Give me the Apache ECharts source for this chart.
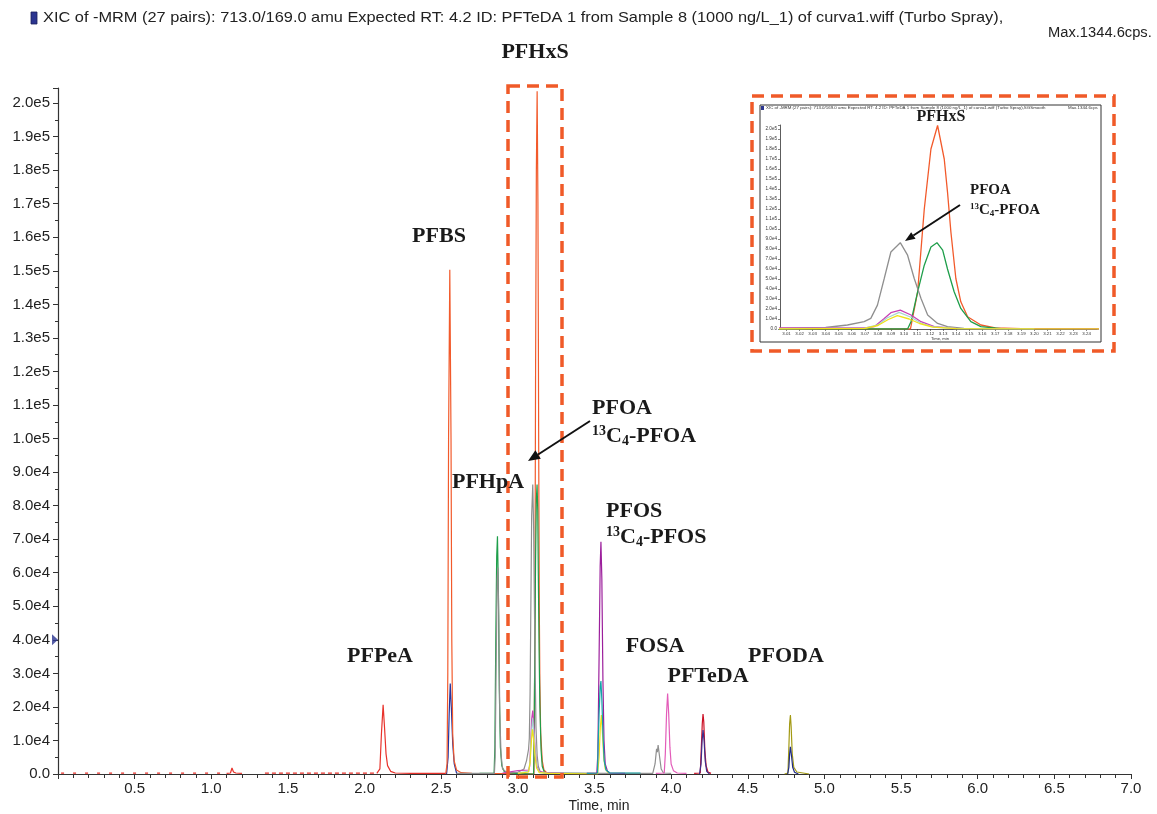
<!DOCTYPE html>
<html>
<head>
<meta charset="utf-8">
<title>XIC of -MRM</title>
<script src="https://cdn.jsdelivr.net/npm/echarts@6.0.0/dist/echarts.min.js"></script>
<style>
    html, body { margin: 0; padding: 0; background: #fff; }
    #chart { width: 1157px; height: 814px; }
</style>
</head>
<body>
<div id="chart"></div>
<script>
// ---- data: [time (min), intensity (cps)] ----
var pfpeaNoiseEarly = [[0.02, 250], [1.10, 250]];
var pfpeaNoiseLate = [[1.35, 250], [2.08, 250]];
var pfpeaBump = [[1.10, 200], [1.125, 300], [1.135, 1800], [1.145, 600], [1.16, 300], [1.20, 200]];
var pfpeaPeak = [[2.08, 200], [2.10, 1500], [2.11, 12000], [2.121, 20600], [2.13, 14000], [2.14, 6000],
    [2.15, 2500], [2.17, 800], [2.20, 300], [2.30, 200], [2.53, 200]];

// PFBS and PFHxS share the orange trace
var orangeTrace = [[2.53, 200], [2.538, 3000], [2.543, 30000], [2.548, 100000], [2.556, 150300], [2.564, 100000],
    [2.569, 40000], [2.575, 12000], [2.584, 4000], [2.60, 1200], [2.63, 400], [2.70, 200], [2.90, 150], [3.00, 100],
    [3.105, 0], [3.1105, 37000], [3.1156, 120000], [3.1207, 180000], [3.1258, 203500], [3.1309, 170000],
    [3.1334, 137000], [3.136, 97000], [3.1398, 50500], [3.1436, 27200], [3.1488, 12300], [3.159, 4000],
    [3.17, 1200], [3.19, 300], [3.30, 150], [3.50, 100]];
var pfbsBlue = [[2.535, 0], [2.545, 5000], [2.552, 18000], [2.559, 27000], [2.566, 20000], [2.575, 9000],
    [2.585, 3000], [2.60, 300], [2.61, 0]];

// PFHpA + 13C4-PFOA (green)
var greenTrace = [[2.75, 200], [2.845, 300], [2.85, 8000], [2.856, 40000], [2.862, 65000], [2.867, 70900],
    [2.873, 55000], [2.879, 25000], [2.886, 8000], [2.895, 2500], [2.91, 800], [2.95, 300], [3.00, 100],
    [3.1028, 0], [3.1054, 7300], [3.1105, 37200], [3.1156, 63800], [3.1207, 82000], [3.1253, 86300],
    [3.1297, 78800], [3.1334, 60000], [3.1385, 37200], [3.1436, 20600], [3.1513, 7300], [3.159, 2300],
    [3.1744, 300], [3.20, 200], [3.30, 200], [3.50, 150]];

// PFHpA + PFOA + FOSA (gray)
var grayTrace = [[2.60, 200], [2.847, 200], [2.852, 5000], [2.859, 35000], [2.865, 58000], [2.870, 61500],
    [2.876, 45000], [2.882, 18000], [2.89, 6000], [2.90, 1500], [2.93, 400], [3.00, 500], [3.04, 1500],
    [3.0567, 4000], [3.0695, 7300], [3.0746, 10600], [3.0797, 23900], [3.0849, 50500], [3.09, 77000],
    [3.0972, 86300], [3.1028, 73800], [3.1079, 50500], [3.1131, 30500], [3.1182, 14000], [3.1258, 5600],
    [3.1334, 2300], [3.146, 700], [3.17, 300], [3.30, 300], [3.60, 200], [3.88, 200], [3.895, 3000],
    [3.905, 7500], [3.91, 6500], [3.915, 8600], [3.925, 5000], [3.935, 1500], [3.95, 300], [4.00, 200]];

var magentaTrace = [[2.90, 300], [3.00, 1000], [3.07, 1200], [3.0772, 2300], [3.0849, 10600], [3.09, 16300],
    [3.0972, 18900], [3.1054, 14000], [3.1131, 7300], [3.1233, 2300], [3.14, 700], [3.20, 300], [3.30, 200]];
var paleTealTrace = [[3.00, 300], [3.07, 800], [3.08, 4000], [3.087, 11000], [3.0963, 16600], [3.105, 12000],
    [3.113, 6000], [3.123, 2000], [3.14, 500], [3.20, 200]];
var yellowTrace = [[3.00, 200], [3.07, 600], [3.08, 3500], [3.088, 9500], [3.095, 13300], [3.104, 10000],
    [3.112, 5500], [3.122, 1800], [3.14, 400], [3.20, 200], [3.52, 0], [3.53, 5000], [3.538, 14000],
    [3.545, 17600], [3.552, 12000], [3.56, 5000], [3.57, 1500], [3.59, 300]];

// PFOS / 13C4-PFOS
var pfosPurple = [[3.45, 200], [3.515, 300], [3.522, 6000], [3.53, 35000], [3.537, 62000], [3.542, 69200],
    [3.548, 58000], [3.555, 28000], [3.562, 10000], [3.57, 3000], [3.585, 800], [3.60, 300], [3.70, 200]];
var pfosTeal = [[3.45, 200], [3.52, 300], [3.523, 8000], [3.53, 18000], [3.537, 26000], [3.542, 27700],
    [3.548, 22000], [3.555, 12000], [3.563, 4000], [3.575, 1200], [3.60, 300], [3.80, 300]];

var fosaPink = [[3.90, 200], [3.955, 300], [3.962, 6000], [3.97, 18000], [3.977, 24000], [3.984, 18000],
    [3.992, 8000], [4.00, 3000], [4.015, 1000], [4.04, 300], [4.10, 200]];

var pftedaRed = [[4.15, 200], [4.19, 300], [4.197, 8000], [4.203, 15000], [4.208, 17900], [4.213, 15500],
    [4.22, 7000], [4.228, 2500], [4.24, 600], [4.26, 200]];
var pftedaIndigo = [[4.185, 0], [4.195, 3000], [4.202, 10000], [4.208, 13100], [4.215, 10000], [4.222, 4000],
    [4.232, 800], [4.25, 0]];

var pfodaOlive = [[4.74, 0], [4.762, 300], [4.768, 8000], [4.773, 15000], [4.778, 17600], [4.783, 14000],
    [4.79, 6000], [4.80, 2000], [4.82, 600], [4.86, 300], [4.90, 0]];
var pfodaNavy = [[4.76, 0], [4.768, 2000], [4.773, 6000], [4.778, 8100], [4.785, 5500], [4.793, 2000],
    [4.805, 500], [4.83, 0]];

// threshold marker on the intensity axis
var thresholdMark = [[0, 40000]];

// tick labels of the zoomed inset
var insetTimeTicks = [3.01, 3.02, 3.03, 3.04, 3.05, 3.06, 3.07, 3.08, 3.09, 3.10, 3.11, 3.12,
    3.13, 3.14, 3.15, 3.16, 3.17, 3.18, 3.19, 3.20, 3.21, 3.22, 3.23, 3.24];

var titleText = 'XIC of -MRM (27 pairs): 713.0/169.0 amu Expected RT: 4.2 ID: PFTeDA 1 from Sample 8 (1000 ng/L_1) of curva1.wiff (Turbo Spray),';
var maxText = 'Max.1344.6cps.';

// ---- styles ----
var SANS = "'Liberation Sans', Arial, Helvetica, sans-serif";
var SERIF = "'Liberation Serif', 'Times New Roman', serif";
var BOX = '#f05a28';

var traces = [
    { data: pfpeaNoiseEarly, color: '#e8322b', dash: [3, 9] },
    { data: pfpeaNoiseLate, color: '#e8322b', dash: [4, 3] },
    { data: pfpeaBump, color: '#e8322b' },
    { data: pfpeaPeak, color: '#e8322b' },
    { data: pfbsBlue, color: '#2433a0' },
    { data: orangeTrace, color: '#f25a2b' },
    { data: greenTrace, color: '#1e9e4a' },
    { data: grayTrace, color: '#8f8f8f' },
    { data: magentaTrace, color: '#c940b5' },
    { data: paleTealTrace, color: '#a6d6cf' },
    { data: yellowTrace, color: '#f0e01a' },
    { data: pfosPurple, color: '#9c1f9c' },
    { data: pfosTeal, color: '#12a5a8' },
    { data: fosaPink, color: '#e35cb9' },
    { data: pftedaRed, color: '#cc1126' },
    { data: pftedaIndigo, color: '#3d2e8c' },
    { data: pfodaOlive, color: '#a39a14' },
    { data: pfodaNavy, color: '#1f2b88' }
];

function sciLabel(v) {
    if (v === 0) return '0.0';
    if (v % 10000 !== 0) return '';
    return v >= 100000 ? (v / 100000).toFixed(1) + 'e5' : (v / 10000).toFixed(1) + 'e4';
}

function lineSeries(t, axis, width) {
    return {
        type: 'line', xAxisIndex: axis, yAxisIndex: axis, data: t.data,
        showSymbol: false, symbol: 'none', silent: true, clip: true,
        lineStyle: { color: t.color, width: width, type: t.dash || 'solid' },
        itemStyle: { color: t.color }
    };
}

function text(x, y, str, size, opts) {
    opts = opts || {};
    return {
        type: 'text', x: x, y: y, z: 10, scaleX: opts.scaleX || 1,
        style: {
            text: str,
            fontSize: size,
            fontFamily: opts.family || SERIF,
            fontWeight: opts.weight || 'bold',
            fill: opts.fill || '#1a1a1a',
            align: opts.align || 'center', textAlign: opts.align || 'center',
            verticalAlign: 'middle', textVerticalAlign: 'middle',
            rich: opts.rich
        }
    };
}

// "13C4-..." label with superscript/subscript
function isotopeLabel(x, y, size, name) {
    var small = Math.round(size * 0.62);
    return text(x, y, '{s|13}{b|C}{u|4}{b|-' + name + '}', size, {
        align: 'left',
        rich: {
            b: { fontSize: size, fontFamily: SERIF, fontWeight: 'bold', fill: '#1a1a1a', lineHeight: size * 1.1 },
            s: { fontSize: small, fontFamily: SERIF, fontWeight: 'bold', fill: '#1a1a1a', lineHeight: small, verticalAlign: 'top' },
            u: { fontSize: small, fontFamily: SERIF, fontWeight: 'bold', fill: '#1a1a1a', lineHeight: small, verticalAlign: 'bottom' }
        }
    });
}

function arrow(x1, y1, x2, y2, head, half, width) {
    var dx = x2 - x1, dy = y2 - y1, len = Math.sqrt(dx * dx + dy * dy);
    var ux = dx / len, uy = dy / len;
    var bx = x2 - ux * head, by = y2 - uy * head;
    return [
        { type: 'line', z: 10, shape: { x1: x1, y1: y1, x2: bx, y2: by }, style: { stroke: '#111', lineWidth: width } },
        { type: 'polygon', z: 10, shape: { points: [[x2, y2], [bx - uy * half, by + ux * half], [bx + uy * half, by - ux * half]] },
          style: { fill: '#111' } }
    ];
}

function dashedBox(x, y, w, h) {
    return {
        type: 'rect', z: 9, shape: { x: x, y: y, width: w, height: h },
        style: { fill: null, stroke: BOX, lineWidth: 3.5, lineDash: [12, 7] }
    };
}

var chart = echarts.init(document.getElementById('chart'));

var series = [];
traces.forEach(function (t) { series.push(lineSeries(t, 0, 1.2)); });
traces.forEach(function (t) { series.push(lineSeries(t, 1, 1.3)); });
series.push({
    type: 'scatter', xAxisIndex: 0, yAxisIndex: 0, data: thresholdMark, clip: false, silent: true,
    symbol: 'triangle', symbolRotate: -90, symbolSize: [11, 6], symbolOffset: [-3, 0],
    itemStyle: { color: '#2b3590' }, z: 5
});
series.push({
    type: 'scatter', xAxisIndex: 1, yAxisIndex: 1, data: thresholdMark, clip: false, silent: true,
    symbol: 'triangle', symbolRotate: -90, symbolSize: [5, 3], symbolOffset: [-1.5, 0],
    itemStyle: { color: '#2b3590' }, z: 5
});

var graphics = [
    // header
    { type: 'rect', shape: { x: 31, y: 12, width: 6, height: 12 }, style: { fill: '#2b3590', stroke: '#1a1f5c', lineWidth: 0.8 } },
    text(43, 18, titleText, 15, { family: SANS, weight: 'normal', align: 'left', fill: '#222', scaleX: 1.09 }),
    text(1048, 33, maxText, 14, { family: SANS, weight: 'normal', align: 'left', fill: '#222', scaleX: 1.05 }),
    text(599, 806, 'Time, min', 14, { family: SANS, weight: 'normal', fill: '#222' }),

    // compound labels
    text(535, 52, 'PFHxS', 22),
    text(439, 236, 'PFBS', 22),
    text(488, 482, 'PFHpA', 22),
    text(592, 408, 'PFOA', 22, { align: 'left' }),
    isotopeLabel(592, 436, 22, 'PFOA'),
    text(606, 511, 'PFOS', 22, { align: 'left' }),
    isotopeLabel(606, 537, 22, 'PFOS'),
    text(380, 656, 'PFPeA', 22),
    text(655, 646, 'FOSA', 22),
    text(708, 676, 'PFTeDA', 22),
    text(786, 656, 'PFODA', 22),

    dashedBox(508, 86, 54, 691),
    dashedBox(752, 96, 362, 255),

    // inset frame and header
    { type: 'rect', z: 1, shape: { x: 760, y: 105, width: 341, height: 237 }, style: { fill: null, stroke: '#333', lineWidth: 1 } },
    { type: 'rect', z: 2, shape: { x: 761, y: 106, width: 3, height: 4 }, style: { fill: '#2b3590' } },
    text(766, 108, titleText + 'SGSmooth', 4.4, { family: SANS, weight: 'normal', align: 'left', fill: '#333' }),
    text(1068, 108, 'Max.1344.6cps', 4.4, { family: SANS, weight: 'normal', align: 'left', fill: '#333' }),
    text(940, 339, 'Time, min', 4.2, { family: SANS, weight: 'normal', fill: '#333' }),
    text(941, 117, 'PFHxS', 16),
    text(970, 190, 'PFOA', 15, { align: 'left' }),
    isotopeLabel(970, 210, 15, 'PFOA')
];
graphics = graphics.concat(arrow(590, 421, 528, 461, 12, 5, 2));
graphics = graphics.concat(arrow(960, 205, 905, 241, 10, 4, 2));

chart.setOption({
    animation: false,
    backgroundColor: '#fff',
    grid: [
        { left: 58, right: 26, top: 88, bottom: 40 },
        { left: 780, right: 60, top: 125, bottom: 485, z: 3 }
    ],
    xAxis: [
        {
            type: 'value', gridIndex: 0, min: 0, max: 7, interval: 0.5,
            axisLine: { lineStyle: { color: '#333', width: 1.2 } },
            axisTick: { length: 5, lineStyle: { color: '#333' } },
            minorTick: { show: true, splitNumber: 5, length: 4, lineStyle: { color: '#333' } },
            splitLine: { show: false },
            axisLabel: {
                color: '#222', fontSize: 15, fontFamily: SANS, margin: 7,
                formatter: function (v) { return v === 0 ? '' : v.toFixed(1); }
            }
        },
        {
            type: 'value', gridIndex: 1, min: 3.005, max: 3.248,
            axisLine: { lineStyle: { color: '#333', width: 0.8 } },
            axisTick: { length: 2, customValues: insetTimeTicks, lineStyle: { color: '#333', width: 0.6 } },
            splitLine: { show: false },
            axisLabel: {
                color: '#333', fontSize: 4.4, fontFamily: SANS, margin: 3, customValues: insetTimeTicks,
                formatter: function (v) { return v.toFixed(2); }
            }
        }
    ],
    yAxis: [
        {
            type: 'value', gridIndex: 0, min: 0, max: 204500, interval: 10000,
            axisLine: { show: true, lineStyle: { color: '#333', width: 1.2 } },
            axisTick: { show: true, length: 5, lineStyle: { color: '#333' } },
            minorTick: { show: true, splitNumber: 2, length: 3, lineStyle: { color: '#333' } },
            splitLine: { show: false },
            axisLabel: { color: '#222', fontSize: 15, fontFamily: SANS, margin: 8, formatter: sciLabel }
        },
        {
            type: 'value', gridIndex: 1, min: 0, max: 204000, interval: 10000,
            axisLine: { show: true, lineStyle: { color: '#333', width: 0.8 } },
            axisTick: { show: true, length: 2, lineStyle: { color: '#333', width: 0.6 } },
            splitLine: { show: false },
            axisLabel: { color: '#333', fontSize: 4.6, fontFamily: SANS, margin: 3, formatter: sciLabel }
        }
    ],
    graphic: graphics,
    series: series
});
</script>
</body>
</html>
